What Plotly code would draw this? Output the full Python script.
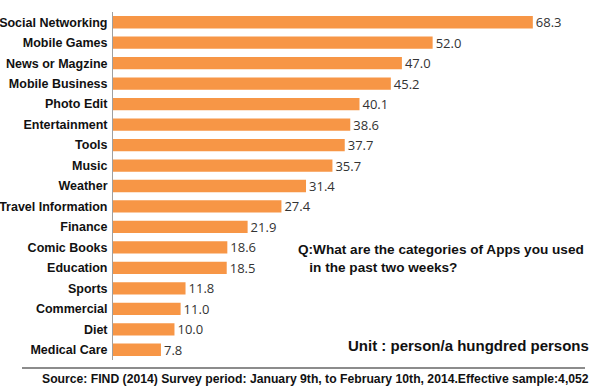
import plotly.graph_objects as go

categories = ["Social Networking", "Mobile Games", "News or Magzine", "Mobile Business",
              "Photo Edit", "Entertainment", "Tools", "Music", "Weather",
              "Travel Information", "Finance", "Comic Books", "Education", "Sports",
              "Commercial", "Diet", "Medical Care"]
values = [68.3, 52.0, 47.0, 45.2, 40.1, 38.6, 37.7, 35.7, 31.4, 27.4, 21.9, 18.6, 18.5,
          11.8, 11.0, 10.0, 7.8]
value_labels = [f"{v:.1f}" for v in values]

W, H = 600, 389
L, R, T, B = 22, 10, 12, 17          # outer plot box (rule spans from x=22)
AX_LEFT, BAR_BOTTOM, RULE_Y, RULE_RIGHT = 113, 360, 368, 585

def px(x):
    return (x - L) / (W - L - R)

def py(y):
    return 1 - (y - T) / (H - T - B)

fig = go.Figure()
fig.add_trace(go.Bar(
    y=categories, x=values, orientation="h",
    marker=dict(color="#F79646", line=dict(width=0)),
    width=0.6,
    text=value_labels, textposition="outside", cliponaxis=False, constraintext="none",
    textfont=dict(family="Open Sans, Noto Sans, sans-serif", size=13, color="#333333"),
    hoverinfo="skip",
))
# empty helper trace so the rule axis (x2) is drawn
fig.add_trace(go.Scatter(x=[None], y=[None], xaxis="x2", yaxis="y",
                         mode="lines", hoverinfo="skip", showlegend=False))

fig.update_layout(
    width=W, height=H,
    margin=dict(l=L, r=R, t=T, b=B),
    plot_bgcolor="rgba(0,0,0,0)", paper_bgcolor="white",
    showlegend=False,
    xaxis=dict(domain=[px(AX_LEFT), 1], range=[0, 77.6], visible=False,
               showgrid=False, zeroline=False, anchor="y"),
    xaxis2=dict(domain=[0, px(RULE_RIGHT)], anchor="free", position=py(RULE_Y),
                range=[0, 1], showline=True, linecolor="#8c8c8c", linewidth=2,
                showticklabels=False, ticks="", showgrid=False, zeroline=False),
    yaxis=dict(domain=[py(BAR_BOTTOM), 1], anchor="x", autorange="reversed",
               showline=True, linecolor="#a0a0a0", linewidth=1,
               ticks="", showgrid=False, zeroline=False, ticklabelstandoff=2,
               automargin=False,
               tickfont=dict(family="Liberation Sans, Arial", size=12.5, color="#111111",
                             weight="bold")),
    annotations=[
        dict(text="<b>Q:What are the categories of Apps you used<br>   in the past two weeks?</b>",
             xref="paper", yref="paper", x=px(296), y=py(240),
             xanchor="left", yanchor="top", align="left", showarrow=False,
             font=dict(family="Liberation Sans, Arial", size=13.6, color="#111111")),
        dict(text="<b>Unit : person/a hungdred persons</b>",
             xref="paper", yref="paper", x=px(591), y=py(345),
             xanchor="right", yanchor="middle", showarrow=False,
             font=dict(family="Liberation Sans, Arial", size=15, color="#111111")),
        dict(text="<b>Source: FIND (2014) Survey period: January 9th, to February 10th, 2014.Effective sample:4,052</b>",
             xref="paper", yref="paper", x=px(591), y=py(379),
             xanchor="right", yanchor="middle", showarrow=False,
             font=dict(family="Liberation Sans, Arial", size=12.2, color="#111111")),
    ],
)

fig.write_html("out.html", config={"displayModeBar": False},
               post_script="document.body.style.margin='0';document.body.style.overflow='hidden';")
